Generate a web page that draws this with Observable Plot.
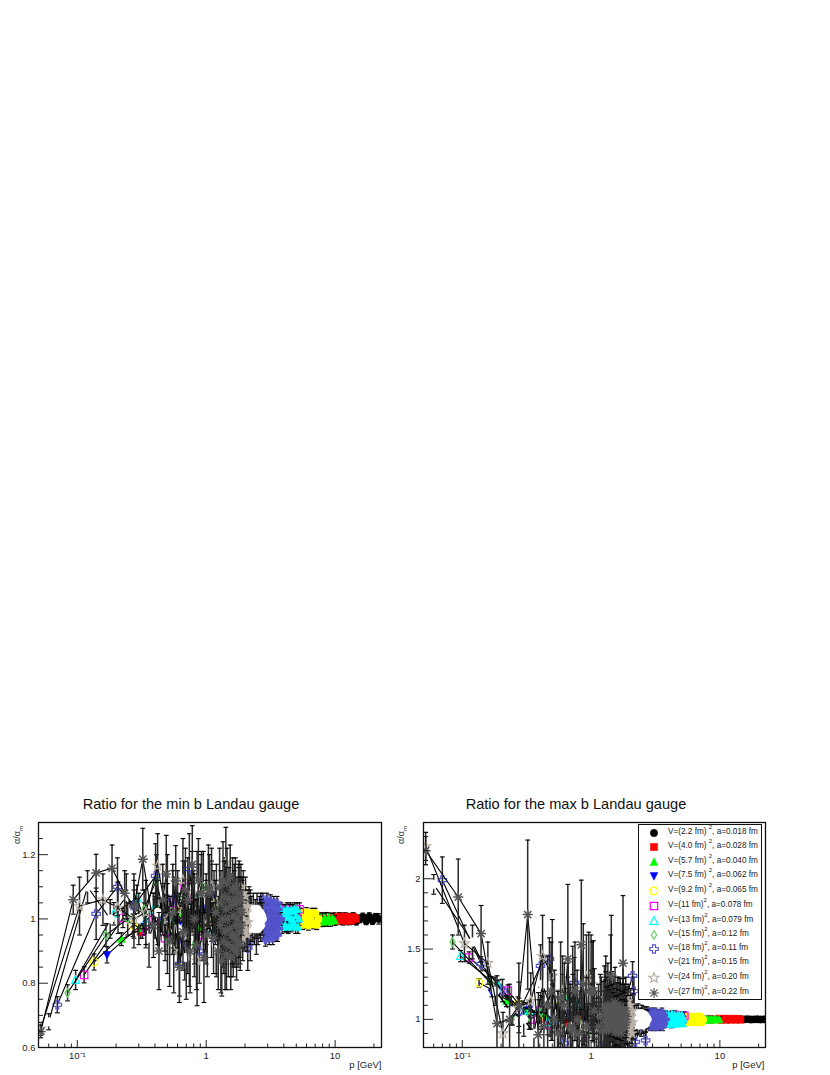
<!DOCTYPE html>
<html><head><meta charset="utf-8">
<script src="https://cdn.jsdelivr.net/npm/d3@7"></script>
<script src="https://cdn.jsdelivr.net/npm/@observablehq/plot@0.6"></script>
<style>
html,body{margin:0;background:#fff}
#page{position:relative;width:830px;height:1075px;overflow:hidden;font-family:"Liberation Sans",sans-serif}
.title{position:absolute;top:796px;font-size:14.6px;color:#111;white-space:nowrap;transform:translateX(-50%)}
.ylab{position:absolute;font-size:9px;color:#333;white-space:nowrap;transform:rotate(-90deg);transform-origin:left top}
.ylab sub{font-size:6px}
#legend{position:absolute;left:638px;top:824px;width:122px;height:174px;border:1.3px solid #111;background:#fff;z-index:5}
.row{position:absolute;left:0;height:14px;width:122px}
.row svg{position:absolute;left:7px;top:-1px}
.row span.t{position:absolute;left:29px;top:1px;font-size:8.2px;color:#222;white-space:nowrap}
.row sup{font-size:6px;position:relative;top:-1px;vertical-align:super;line-height:0}
</style></head>
<body><div id="page"></div>
<script>
// V=(2.2 fm)^2
const p0=[.56,.8,1.1,1.6,2.3,3.2,4.5,6,8,10.8,11.5,12.2,13,13.8,14.6,15.5,16.4,17.4,18.4,19.5,20.6,21.8];
const yL0=[.98,1.02,1.01,.99,1.0,1.01,1.0,.99,1.0,1.007,.993,1.006,.994,1.007,.993,1.0,1.006,.994,1.007,.995,1.005,1.0];
const eL0=[.04,.035,.03,.03,.025,.025,.02,.02,.018,.012,.012,.012,.012,.012,.012,.012,.012,.012,.012,.012,.012,.016];
const yR0=[1.02,.98,1.0,1.01,.99,1.0,1.01,1.0,1.0,1.003,.998,1.002,1.0,.999,1.001,1.0,1.002,.999,1.0,1.001,.999,1.0];
const eR0=[.06,.05,.05,.04,.03,.03,.025,.02,.02,.012,.012,.012,.012,.012,.012,.012,.012,.012,.012,.012,.012,.012];
// V=(4.0 fm)^2
const p1=[.31,.45,.62,.88,1.2,1.7,2.4,3.4,4.8,6.5,8.5,9.8,10.3,10.8,11.3,11.8,12.3,12.8,13.3,13.8,14.4];
const yL1=[.96,.99,1.03,.97,1.02,.98,1.01,.99,1.01,1.0,1.0,1.007,.994,1.006,.995,1.007,.994,1.005,.995,1.006,1.0];
const eL1=[.02,.03,.04,.04,.04,.035,.03,.03,.025,.025,.02,.012,.012,.012,.012,.012,.012,.012,.012,.012,.012];
const yR1=[1.04,1.0,.97,1.03,1.02,.99,1.0,1.01,.99,1.0,1.0,1.005,.996,1.003,1.0,1.004,.998,1.002,1.0,1.003,.998];
const eR1=[.04,.05,.06,.06,.05,.05,.04,.04,.03,.03,.025,.015,.015,.015,.015,.015,.015,.015,.015,.015,.015];
// V=(5.7 fm)^2
const p2=[.22,.32,.44,.62,.88,1.25,1.8,2.5,3.5,5,6.8,7.4,7.7,8,8.3,8.6,8.9,9.2,9.5,9.9];
const yL2=[.937,.97,1.0,1.02,.97,1.03,.98,1.01,.99,1.0,1.0,.993,1.004,.991,1.003,.992,1.004,.992,1.002,.995];
const eL2=[.02,.03,.035,.04,.04,.04,.04,.035,.03,.03,.025,.015,.015,.015,.015,.015,.015,.015,.015,.015];
const yR2=[1.13,1.06,1.03,1.05,.98,1.02,.97,1.03,1.0,.99,1.0,1.004,.996,1.004,.998,1.003,.997,1.002,.998,1.0];
const eR2=[.04,.05,.05,.06,.06,.05,.05,.05,.04,.03,.03,.018,.018,.018,.018,.018,.018,.018,.018,.018];
// V=(7.5 fm)^2
const p3=[.17,.33,.48,.66,.95,1.3,1.9,2.6,3.4,4.2,5,5.8,6.6];
const yL3=[.888,.99,1.05,.98,1.03,.96,1.02,.98,1.01,.99,1.0,1.0,1.0];
const eL3=[.025,.03,.04,.05,.05,.05,.05,.04,.035,.03,.03,.025,.025];
const yR3=[1.19,1.07,1.03,1.08,.95,1.04,.98,1.02,1.0,.98,1.01,1.0,1.0];
const eR3=[.03,.05,.05,.07,.07,.06,.06,.05,.04,.04,.03,.03,.03];
// V=(9.2 fm)^2
const p4=[.135,.27,.4,.55,.78,1.1,1.55,2.2,3.1,4.2,5.4,5.6,5.8,6,6.2,6.4,6.6,6.8,7,7.2,7.4];
const yL4=[.866,.98,1.03,.97,1.05,.99,.95,1.02,1.0,.99,1.018,.982,1.0,1.02,.98,1.0,1.018,.984,1.018,.982,1.0];
const eL4=[.025,.035,.04,.06,.06,.06,.05,.05,.04,.03,.015,.015,.015,.015,.015,.015,.015,.015,.015,.015,.015];
const yR4=[1.26,1.11,1.03,1.09,.97,1.05,1.0,.97,1.02,1.0,1.02,.98,1.0,1.02,.98,1.0,1.02,.98,1.02,.98,1.0];
const eR4=[.03,.05,.06,.07,.08,.07,.06,.06,.05,.04,.02,.02,.02,.02,.02,.02,.02,.02,.02,.02,.02];
// V=(11 fm)^2
const p5=[.113,.226,.34,.4,.48,.56,.68,.8,.95,1.1,1.35,1.9,2.7,3.7,3.9,4.1,4.3,4.5,4.7,4.9,5.1,5.3];
const yL5=[.826,1.003,.96,1.0,.94,1.05,1.1,1.06,.95,1.08,1.03,.97,1.02,1.03,1.0,1.025,.98,1.03,.99,1.02,1.0,1.03];
const eL5=[.025,.03,.05,.06,.07,.08,.08,.09,.08,.09,.07,.06,.05,.02,.02,.02,.02,.02,.02,.02,.02,.02];
const yR5=[1.44,1.205,1.0,1.06,.96,1.02,1.09,.95,.97,1.1,1.04,1.0,1.03,1.02,.99,1.025,.985,1.03,.99,1.02,1.0,1.025];
const eR5=[.04,.04,.07,.08,.08,.09,.1,.1,.1,.1,.09,.08,.06,.03,.03,.03,.03,.03,.03,.03,.03,.03];
// V=(13 fm)^2
const p6=[.097,.192,.29,.33,.39,.46,.55,.65,.78,.9,1.1,1.55,2.2,3,3.8,3.88,3.95,4.02,4.1,4.18,4.25,4.33,4.4,4.48,4.55,4.63,4.7,4.78,4.85,4.93,5,5.08,5.15,5.25];
const yL6=[.81,1.016,1.065,1.0,1.03,1.05,1.0,.97,1.04,1.08,.96,1.02,.98,1.01,1.03,.975,1.005,1.025,.98,1.01,1.03,.975,1.005,1.025,.98,1.0,1.025,.985,1.03,.975,1.01,1.03,.975,1.0];
const eL6=[.03,.035,.04,.05,.05,.06,.07,.08,.08,.09,.08,.07,.06,.05,.02,.02,.02,.02,.02,.02,.02,.02,.02,.02,.02,.02,.02,.02,.02,.02,.02,.02,.02,.02];
const yR6=[1.45,1.23,1.06,1.05,1.06,.98,1.0,1.12,1.1,.95,.96,1.03,.99,1.02,1.04,.965,1.0,1.03,.97,1.01,1.04,.965,1.0,1.03,.97,1.0,1.03,.975,1.03,.97,1.01,1.03,.97,1.0];
const eR6=[.04,.05,.07,.08,.08,.09,.1,.1,.1,.11,.1,.09,.07,.05,.02,.02,.02,.02,.02,.02,.02,.02,.02,.02,.02,.02,.02,.02,.02,.02,.02,.02,.02,.02];
// V=(15 fm)^2
const p7=[.084,.167,.246,.33,.41,.5,.58,.66,.74,.81,.95,1.15,1.35,1.6,1.9,2.2,2.8,3.2,3.6];
const yL7=[.77,.95,1.0,1.03,1.12,.93,.98,1.07,.89,.92,1.1,1.05,.95,.97,1.05,1.02,.99,1.0,1.01];
const eL7=[.025,.035,.05,.06,.08,.1,.09,.11,.1,.1,.11,.1,.1,.09,.08,.07,.05,.05,.04];
const yR7=[1.55,1.255,1.03,1.02,1.05,1.2,.96,1.15,1.1,.98,.9,1.04,1.12,1.0,.92,.97,1.01,1.0,1.0];
const eR7=[.05,.05,.07,.09,.12,.14,.13,.15,.14,.14,.14,.12,.12,.1,.1,.08,.06,.05,.05];
// V=(18 fm)^2
const p8=[.07,.14,.205,.275,.405,.475,.55,.62,.68,.74,.885,1.0,1.1,1.2,1.4,1.6,1.8,2.1,2.15,2.2,2.45,2.65,2.75,2.78,2.82,2.85,2.88,2.92,2.95,2.98,3.02,3.05,3.08,3.12,3.15,3.18,3.22,3.25,3.28,3.32,3.35,3.38,3.42,3.45,3.48,3.52,3.55,3.58,3.62,3.65,3.7,3.78];
const yL8=[.733,1.016,1.1,1.04,1.134,1.0,1.06,.86,.93,1.155,.9,1.03,1.08,.93,.88,.95,1.09,.91,1.04,.93,.95,1.03,1.06,.96,1.01,1.035,.935,.985,1.06,.96,1.01,1.035,.94,.985,1.055,.96,1.01,1.035,.94,.985,1.05,.96,1.01,1.03,.95,.985,1.05,.95,1.03,.97,1.0,1.0];
const eL8=[.025,.08,.09,.1,.1,.1,.11,.1,.12,.11,.1,.11,.1,.1,.1,.1,.09,.07,.06,.06,.06,.05,.02,.02,.02,.02,.02,.02,.02,.02,.02,.02,.02,.02,.02,.02,.02,.02,.02,.02,.02,.02,.02,.02,.02,.02,.02,.02,.02,.02,.02,.02];
const yR8=[1.99,1.395,1.205,1.05,1.38,1.43,.95,.83,1.05,1.26,.96,1.1,1.05,.8,.88,1.0,1.1,1.31,1.2,.84,.95,.85,1.05,.96,1.01,1.03,.95,.99,1.05,.96,1.01,1.03,.95,.99,1.05,.96,1.01,1.03,.95,.99,1.04,.96,1.01,1.03,.96,.99,1.05,.95,1.03,.97,1.0,1.0];
const eR8=[.165,.05,.08,.1,.15,.15,.15,.15,.18,.18,.15,.15,.15,.15,.14,.13,.12,.1,.1,.08,.07,.06,.03,.03,.03,.03,.03,.03,.03,.03,.03,.03,.03,.03,.03,.03,.03,.03,.03,.03,.03,.03,.03,.03,.03,.03,.03,.03,.03,.03,.03,.03];
// V=(21 fm)^2
const p9=[.06,.12,.18,.24,.3,.36,.42,.5,.6,.7,.85,1.0,1.2,1.4,1.6,1.85,2.12,2.16,2.2,2.24,2.28,2.32,2.36,2.4,2.44,2.48,2.52,2.56,2.6,2.64,2.68,2.72];
const yL9=[.68,1.1,1.0,1.07,1.0,.94,1.02,1.09,.97,.88,1.1,1.0,.92,1.08,1.05,.96,1.03,.97,1.0,1.02,.98,1.03,.97,1.01,.99,1.03,.97,1.0,1.02,.98,1.01,1.0];
const eL9=[.025,.05,.06,.07,.08,.09,.1,.11,.11,.13,.11,.12,.1,.11,.09,.08,.05,.05,.05,.05,.05,.05,.05,.05,.05,.05,.05,.05,.05,.05,.05,.05];
const yR9=[1.96,1.55,1.2,1.06,1.0,.9,1.25,1.05,1.1,.95,.95,1.15,1.02,.9,1.08,1.0,1.04,.96,1.0,1.03,.97,1.04,.96,1.01,.99,1.04,.96,1.0,1.03,.97,1.01,1.0];
const eR9=[.07,.12,.1,.1,.12,.15,.2,.2,.22,.2,.2,.2,.18,.18,.16,.12,.07,.07,.07,.07,.07,.07,.07,.07,.06,.06,.06,.06,.06,.06,.06,.06];
// V=(24 fm)^2
const p10=[.052,.104,.158,.207,.275,.34,.42,.5,.56,.6,.66,.72,.78,.85,.92,1.0,1.1,1.2,1.3,1.42,1.55,1.65,1.7,1.74,1.78,1.8,1.82,1.84,1.86,1.88,1.9,1.92,1.94,1.96,1.98,2.0,2.02,2.04,2.06,2.08,2.1,2.12];
const yL10=[.658,1.04,1.06,1.035,1.0,1.02,1.165,1.0,.9,1.03,1.12,.95,1.08,.87,1.08,.98,1.1,1.05,.9,1.175,.93,1.09,.94,1.02,1.1,.95,1.06,.93,1.1,.98,1.05,.94,1.08,1.0,.96,1.03,1.07,.97,1.02,.95,1.04,.99];
const eL10=[.02,.09,.08,.08,.09,.1,.1,.11,.13,.12,.13,.12,.13,.14,.13,.12,.12,.12,.13,.11,.11,.08,.08,.08,.07,.07,.07,.07,.07,.07,.07,.07,.07,.06,.06,.06,.06,.06,.06,.05,.05,.05];
const yR10=[2.23,1.54,1.40,.90,1.085,1.13,1.45,1.31,.95,1.2,1.1,1.22,.87,.95,1.3,1.25,.9,1.0,1.15,1.3,.9,1.15,.9,1.05,1.14,.88,1.1,.92,1.15,.97,1.08,.87,1.13,1.0,.93,1.05,1.1,.95,1.02,.9,1.06,.98];
const eR10=[.1,.13,.15,.15,.18,.2,.29,.4,.25,.25,.3,.3,.25,.3,.3,.35,.25,.3,.3,.3,.25,.15,.15,.15,.15,.15,.15,.15,.15,.15,.15,.12,.12,.12,.12,.12,.12,.12,.12,.12,.12,.12];
// V=(27 fm)^2
const p11=[.052,.093,.14,.186,.233,.275,.322,.39,.43,.46,.49,.52,.55,.58,.62,.66,.69,.72,.75,.78,.81,.84,.87,.92,.96,1.02,1.04,1.06,1.14,1.18,1.24,1.27,1.285,1.3,1.32,1.335,1.35,1.37,1.385,1.4,1.42,1.435,1.45,1.47,1.485,1.5,1.52,1.535,1.55,1.57,1.585,1.6,1.62,1.635,1.65,1.67,1.685,1.7,1.72,1.735,1.75,1.77,1.785,1.8,1.82,1.835,1.85,1.87,1.89];
const yL11=[.65,1.06,1.143,1.158,1.08,1.04,1.186,.98,.9,1.06,1.14,.93,1.02,1.118,.85,.96,1.09,1.06,.9,1.17,1.0,.92,1.12,1.08,.88,.95,1.1,1.08,.94,1.02,.9,1.1,.98,1.05,.87,1.0,1.12,.93,1.07,.96,1.03,.89,1.11,1.0,.92,1.06,.97,1.13,.88,1.04,.95,1.09,.91,1.01,1.06,.94,1.1,.98,.9,1.05,1.0,.93,1.08,.96,1.03,.92,1.06,.98,1.02];
const eL11=[.02,.045,.058,.072,.07,.08,.096,.1,.12,.11,.12,.14,.13,.11,.11,.12,.13,.13,.13,.12,.14,.14,.13,.12,.14,.13,.13,.12,.11,.1,.12,.12,.11,.1,.11,.1,.12,.1,.11,.1,.1,.11,.11,.1,.1,.1,.09,.1,.1,.09,.09,.1,.09,.09,.09,.09,.09,.08,.09,.08,.08,.08,.08,.08,.07,.08,.07,.07,.07];
const yR11=[2.2,1.87,1.61,.97,1.0,1.1,1.745,.89,.95,1.1,1.2,1.0,.9,1.15,1.1,1.43,.95,.92,1.2,1.0,.9,1.53,1.25,.95,1.2,1.2,1.2,1.06,.95,1.02,.92,1.08,.98,1.04,.93,1.0,1.1,.93,1.05,.96,1.03,1.31,1.09,1.0,.94,1.06,.97,1.12,.91,1.04,.95,1.08,.92,1.01,1.06,.94,1.09,.98,.9,1.05,1.0,1.40,1.07,.96,1.03,.94,1.06,.98,1.02];
const eR11=[.1,.27,.2,.34,.25,.3,.53,.3,.25,.35,.35,.35,.3,.4,.3,.53,.3,.4,.35,.35,.3,.46,.43,.35,.42,.35,.36,.3,.3,.3,.35,.3,.3,.3,.3,.3,.3,.28,.28,.28,.28,.43,.25,.25,.25,.25,.25,.25,.25,.22,.22,.22,.22,.2,.2,.2,.2,.2,.2,.2,.2,.48,.18,.18,.16,.16,.15,.15,.15];

const volumes=["2.2","4.0","5.7","7.5","9.2","11","13","15","18","21","24","27"];
const spacings=["0.018","0.028","0.040","0.062","0.065","0.078","0.079","0.12","0.11","0.15","0.20","0.22"];
const colors=["#000000","#ff0000","#00ff00","#0000ff","#ffff00","#ff00ff","#00ffff","#5fd35f","#5555cc","#ffffff","#b8b0a6","#555555"];
const filled=[true,true,true,true,false,false,false,false,false,true,false,false];
const denseFrom=[0,0,0,0,5.4,99,3.8,99,2.7,0,1.78,99];
const legendBlank=9;
const ps=[p0,p1,p2,p3,p4,p5,p6,p7,p8,p9,p10,p11];
const ysL=[yL0,yL1,yL2,yL3,yL4,yL5,yL6,yL7,yL8,yL9,yL10,yL11];
const esL=[eL0,eL1,eL2,eL3,eL4,eL5,eL6,eL7,eL8,eL9,eL10,eL11];
const ysR=[yR0,yR1,yR2,yR3,yR4,yR5,yR6,yR7,yR8,yR9,yR10,yR11];
const esR=[eR0,eR1,eR2,eR3,eR4,eR5,eR6,eR7,eR8,eR9,eR10,eR11];

const poly=pts=>({draw(c){pts.forEach(([x,y],i)=>i?c.lineTo(x,y):c.moveTo(x,y));c.closePath();}});
const circ=r=>({draw(c){c.moveTo(r,0);c.arc(0,0,r,0,2*Math.PI);c.closePath();}});
const starPts=[];for(let i=0;i<10;i++){const r=i%2?2.2:5.2,a=-Math.PI/2+i*Math.PI/5;starPts.push([r*Math.cos(a),r*Math.sin(a)]);}
const symbols=[
 circ(3.7),
 poly([[-3.6,-3.6],[3.6,-3.6],[3.6,3.6],[-3.6,3.6]]),
 poly([[0,-4.2],[3.9,3.4],[-3.9,3.4]]),
 poly([[0,4.2],[3.9,-3.4],[-3.9,-3.4]]),
 circ(3.9),
 poly([[-3.7,-3.7],[3.7,-3.7],[3.7,3.7],[-3.7,3.7]]),
 poly([[0,-4.4],[4,3.4],[-4,3.4]]),
 poly([[0,-4.2],[2.6,0],[0,4.2],[-2.6,0]]),
 poly([[-1.5,-4.2],[1.5,-4.2],[1.5,-1.5],[4.2,-1.5],[4.2,1.5],[1.5,1.5],[1.5,4.2],[-1.5,4.2],[-1.5,1.5],[-4.2,1.5],[-4.2,-1.5],[-1.5,-1.5]]),
 circ(4.4),
 poly(starPts),
 {draw(c){const r=5,d=3.6;c.moveTo(0,-r);c.lineTo(0,r);c.moveTo(-r,0);c.lineTo(r,0);c.moveTo(-d,-d);c.lineTo(d,d);c.moveTo(-d,d);c.lineTo(d,-d);}}
];
const capSym={draw(c){c.moveTo(-2.4,0);c.lineTo(2.4,0);}};

const minorX=[.06,.07,.08,.09,.2,.3,.4,.5,.6,.7,.8,.9,2,3,4,5,6,7,8,9,20];
const xLabels=new Map([[.1,"10\u207B\u00B9"],[1,"1"],[10,"10"]]);

function panel(ys,es,opt){
  const marks=[];
  ys.forEach((yv,i)=>{
    const rows=ps[i].map((p,k)=>({p,y:yv[k],lo:yv[k]-es[i][k],hi:yv[k]+es[i][k]}));
    const sparse=rows.filter(d=>d.p<denseFrom[i]), dense=rows.filter(d=>d.p>=denseFrom[i]);
    marks.push(Plot.line(rows,{x:"p",y:"y",stroke:"#000",strokeWidth:1.1,clip:true}));
    marks.push(Plot.ruleX(rows,{x:"p",y1:"lo",y2:"hi",stroke:"#2a2a2a",strokeWidth:1.5,clip:true}));
    marks.push(Plot.dot(rows,{x:"p",y:"lo",symbol:capSym,stroke:"#000",strokeWidth:1.1,clip:true}));
    marks.push(Plot.dot(rows,{x:"p",y:"hi",symbol:capSym,stroke:"#000",strokeWidth:1.1,clip:true}));
    marks.push(Plot.dot(sparse,{x:"p",y:"y",symbol:symbols[i],fill:"none",stroke:colors[i],strokeWidth:i===11?1.5:1.2,clip:true}));
    marks.push(Plot.dot(dense,{x:"p",y:"y",symbol:symbols[i],fill:colors[i],stroke:colors[i],strokeWidth:0.5,clip:true}));
  });
  return Plot.plot({
    width:opt.width,height:285,
    marginLeft:38,marginRight:opt.marginRight,marginTop:32,marginBottom:28,
    style:{position:"absolute",left:opt.left+"px",top:"790px",background:"transparent",
      fontFamily:"Liberation Sans",fontSize:"9.5px",color:"#222",maxWidth:"none",overflow:"visible"},
    x:{type:"log",domain:opt.xd},
    y:{domain:opt.yd},
    marks:[
      ...marks,
      Plot.axisY(opt.yMinor,{tickSize:-5,tickFormat:()=>"",label:null}),
      Plot.axisY(opt.yMajor,{tickSize:-10,tickPadding:13,tickFormat:d=>String(d),label:null}),
      Plot.axisX(minorX,{tickSize:-3.5,tickFormat:()=>"",label:null}),
      Plot.axisX([.1,1,10],{tickSize:-7,tickPadding:12,tickFormat:d=>xLabels.get(d),
        label:"p [GeV]",labelAnchor:"right",labelArrow:"none",labelOffset:20,fontSize:9.5}),
      Plot.frame({stroke:"#111",strokeWidth:1.3})
    ]
  });
}

const page=document.getElementById("page");
page.append(panel(ysL,esL,{width:384,marginRight:3,left:0,xd:[.05,22.9],yd:[.6,1.3],
  yMajor:[.6,.8,1,1.2],yMinor:[.65,.7,.75,.85,.9,.95,1.05,1.1,1.15,1.25,1.3]}));
page.append(panel(ysR,esR,{width:382,marginRight:2,left:385,xd:[.05,22.6],yd:[.8,2.4],
  yMajor:[1,1.5,2],yMinor:[.9,1.1,1.2,1.3,1.4,1.6,1.7,1.8,1.9,2.1,2.2,2.3]}));

const titles=[["Ratio for the min b Landau gauge",191],["Ratio for the max b Landau gauge",576]];
titles.forEach(([t,x])=>{const d=document.createElement("div");d.className="title";d.textContent=t;d.style.left=x+"px";page.append(d);});
[[12,844],[396,844]].forEach(([x,y])=>{const d=document.createElement("div");d.className="ylab";d.innerHTML="\u03B1/\u03B1<sub>m</sub>";d.style.left=x+"px";d.style.top=y+"px";page.append(d);});

const lg=document.createElement("div");lg.id="legend";
const rowTops=[1,15,30,44,59,74,89,103,117,131,146,161];
volumes.forEach((v,i)=>{
  const r=document.createElement("div");r.className="row";r.style.top=rowTops[i]+"px";
  const path=d3.path();symbols[i].draw(path);
  const mark=i===legendBlank?"":`<path transform="translate(8,8)" d="${path}" fill="${filled[i]?colors[i]:"none"}" stroke="${colors[i]}" stroke-width="${filled[i]?0.5:1.2}"/>`;
  r.innerHTML=`<svg width="16" height="16">${mark}</svg><span class="t">V=(${v} fm)${i<5?" ":""}<sup>2</sup>, a=${spacings[i]} fm</span>`;
  lg.append(r);
});
page.append(lg);
</script></body></html>
